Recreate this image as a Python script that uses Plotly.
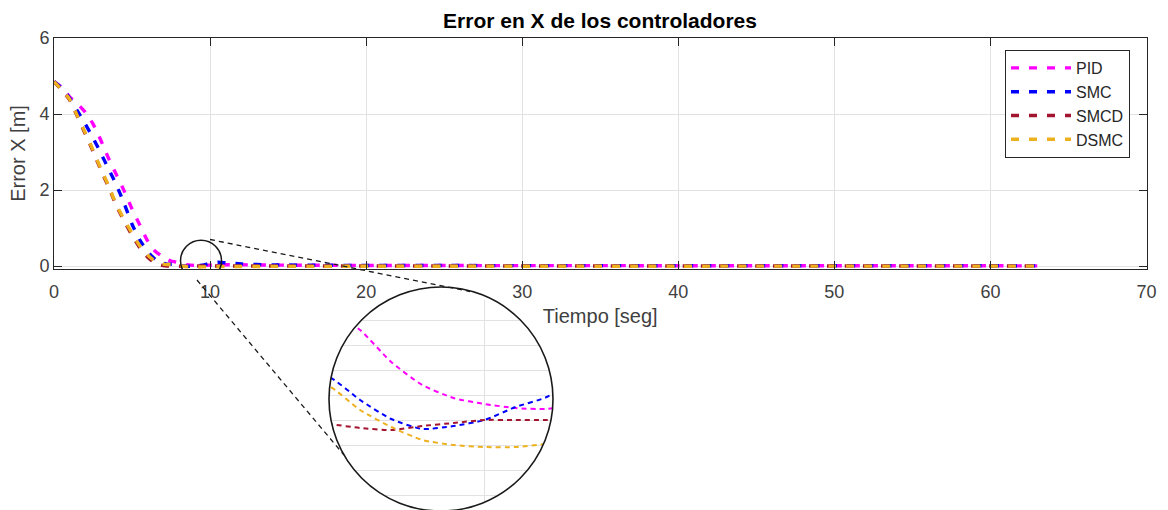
import math
import numpy as np
import plotly.graph_objects as go

# Simulation time [seg]
t = [0, 0.5, 1, 1.5, 2, 2.5, 3, 3.5, 4, 4.5, 5, 5.5, 6, 6.5, 7, 7.25, 7.5, 7.75,
     8.0, 8.25, 8.5, 8.75, 9.0, 9.25, 9.5, 9.75, 10, 10.5, 11, 12, 13, 14, 15, 17,
     20, 25, 30, 35, 40, 45, 50, 55, 60, 63]

# Position error in X [m] for each controller
err_pid = [4.85, 4.70, 4.45, 4.27, 4.05, 3.74, 3.31, 2.83, 2.40, 1.97, 1.50, 1.08, 0.66, 0.38, 0.24,
           0.17, 0.13, 0.11,
           0.09, 0.058, 0.035, 0.022, 0.016, 0.012, 0.011, 0.016, 0.022,
           0.030, 0.034, 0.032, 0.028, 0.025, 0.022, 0.018,
           0.015, 0.012, 0.010, 0.009, 0.008, 0.007, 0.006, 0.005, 0.005, 0.004]

err_smc = [4.85, 4.68, 4.42, 4.08, 3.74, 3.37, 2.97, 2.55, 2.13, 1.64, 1.10, 0.68, 0.38, 0.17, 0.07,
           0.05, 0.045, 0.043,
           0.02, 0.001, -0.009, -0.006, 0.0, 0.013, 0.023, 0.045, 0.075,
           0.10, 0.085, 0.055, 0.04, 0.03, 0.025, 0.02,
           0.015, 0.012, 0.010, 0.009, 0.008, 0.007, 0.006, 0.005, 0.005, 0.004]

err_smcd = [4.85, 4.63, 4.37, 3.93, 3.48, 3.02, 2.53, 2.08, 1.58, 1.18, 0.81, 0.48, 0.23, 0.07, 0.01,
            0.0, -0.002, -0.004,
            -0.008, -0.010, -0.006, -0.003, 0.0, 0.0, 0.0, 0.0, 0.0,
            0.0, 0.0, 0.0, 0.0, 0.0, 0.0, 0.0,
            0.0, 0.0, 0.0, 0.0, 0.0, 0.0, 0.0, 0.0, 0.0, 0.0]

err_dsmc = [4.85, 4.64, 4.39, 3.95, 3.51, 3.05, 2.56, 2.11, 1.61, 1.22, 0.86, 0.53, 0.29, 0.12, 0.05,
            0.04, 0.04, 0.034,
            0.01, -0.007, -0.02, -0.025, -0.027, -0.027, -0.024, -0.022, -0.02,
            -0.018, -0.016, -0.014, -0.012, -0.011, -0.010, -0.009,
            -0.008, -0.007, -0.006, -0.005, -0.005, -0.004, -0.004, -0.003, -0.003, -0.003]

names = ["PID", "SMC", "SMCD", "DSMC"]
series = [err_pid, err_smc, err_smcd, err_dsmc]
colors = ["#FF00FF", "#0000FF", "#A2142F", "#EDB120"]

x_ticks = [0, 10, 20, 30, 40, 50, 60, 70]
y_ticks = [0, 2, 4, 6]

W, H = 1168, 510
FONT = "Liberation Sans, Arial, Helvetica, sans-serif"


def px_x(px):
    return px / W


def px_y(py):
    return 1 - py / H


fig = go.Figure()

# main curves
for name, ys, col in zip(names, series, colors):
    fig.add_trace(go.Scatter(
        x=t, y=ys, name=name, mode="lines",
        line=dict(color=col, width=3.4, dash="8px,10px", shape="spline", smoothing=0.6),
        xaxis="x", yaxis="y",
    ))

# magnified view of the settling region
for name, ys, col in zip(names, series, colors):
    fig.add_trace(go.Scatter(
        x=t, y=ys, name=name, mode="lines", showlegend=False,
        line=dict(color=col, width=2, dash="5px,4px", shape="spline", smoothing=0.6),
        xaxis="x2", yaxis="y2",
    ))

axis_common = dict(
    showline=True, linecolor="#262626", linewidth=1, mirror="allticks",
    ticks="inside", ticklen=8, tickwidth=1, tickcolor="#262626",
    showgrid=True, gridcolor="#e2e2e2", gridwidth=1, zeroline=False,
    automargin=False,
    tickfont=dict(family=FONT, size=18, color="#404040"),
)

# big magnifier circle (pixels)
cx, cy, r = 441, 399, 112
inset_top = 300

fig.update_layout(
    width=W, height=H,
    margin=dict(l=0, r=0, t=0, b=0, autoexpand=False),
    paper_bgcolor="white", plot_bgcolor="white",
    font=dict(family=FONT),
    title=dict(text="Error en X de los controladores", x=600 / W, xanchor="center",
               y=px_y(21), yanchor="middle", automargin=False,
               font=dict(family=FONT, size=21, color="#000000", weight="bold")),
    xaxis=dict(domain=[px_x(54), px_x(1146.5)], range=[0, 70], tickvals=x_ticks,
               title=dict(text="Tiempo [seg]", standoff=8,
                          font=dict(family=FONT, size=20, color="#404040")),
               ticklabelstandoff=6, anchor="y", **axis_common),
    yaxis=dict(domain=[px_y(269), px_y(38)], range=[-0.079, 6], tickvals=y_ticks,
               title=dict(text="Error X [m]", standoff=8,
                          font=dict(family=FONT, size=20, color="#404040")),
               anchor="x", **axis_common),
    xaxis2=dict(domain=[px_x(cx - r), px_x(cx + r)], range=[7.75, 9.55], tickvals=[9],
                showticklabels=False, showgrid=True, gridcolor="#e2e2e2", zeroline=False,
                showline=False, ticks="", anchor="y2", automargin=False),
    yaxis2=dict(domain=[0, px_y(inset_top)], range=[-0.09, 0.12],
                tickvals=[-0.075, -0.05, -0.025, 0, 0.025, 0.05, 0.075, 0.1],
                showticklabels=False, showgrid=True, gridcolor="#e2e2e2", zeroline=False,
                showline=False, ticks="", anchor="x2", automargin=False),
    legend=dict(x=px_x(1130), xanchor="right", y=px_y(50), yanchor="top",
                bgcolor="white", bordercolor="#262626", borderwidth=1,
                font=dict(family=FONT, size=16, color="#262626"),
                itemwidth=60),
    showlegend=True,
)

# white mask: keeps the magnified view inside the circle
h = cy - inset_top
angs = np.linspace(math.pi - math.asin(h / r), 2 * math.pi + math.asin(h / r), 180)
arc = " ".join(f"L{r * math.cos(a):.2f},{r * math.sin(a):.2f}" for a in angs)
mask_path = f"M-118,{h} {arc} L118,{h} L118,-118 L-118,-118 Z"

shapes = [
    dict(type="path", xref="paper", yref="paper", xsizemode="pixel", ysizemode="pixel",
         xanchor=px_x(cx), yanchor=px_y(cy), path=mask_path,
         fillcolor="white", line=dict(width=0), layer="above"),
    dict(type="circle", xref="paper", yref="paper", xsizemode="pixel", ysizemode="pixel",
         xanchor=px_x(cx), yanchor=px_y(cy), x0=-r, x1=r, y0=-r, y1=r,
         line=dict(color="#1a1a1a", width=1.6), layer="above"),
    # small circle marking the region that is magnified
    dict(type="circle", xref="x", yref="y", xsizemode="pixel", ysizemode="pixel",
         xanchor=9.42, yanchor=0.14, x0=-20.5, x1=20.5, y0=-20.5, y1=20.5,
         line=dict(color="#1a1a1a", width=1.5), layer="above"),
    # connector lines
    dict(type="line", xref="paper", yref="paper",
         x0=px_x(210), y0=px_y(239.5), x1=px_x(470), y1=px_y(291.5),
         line=dict(color="#1a1a1a", width=1.3, dash="5px,4px"), layer="above"),
    dict(type="line", xref="paper", yref="paper",
         x0=px_x(197), y0=px_y(280), x1=px_x(344), y1=px_y(455),
         line=dict(color="#1a1a1a", width=1.3, dash="5px,4px"), layer="above"),
]
fig.update_layout(shapes=shapes)

fig.write_html("out.html")
